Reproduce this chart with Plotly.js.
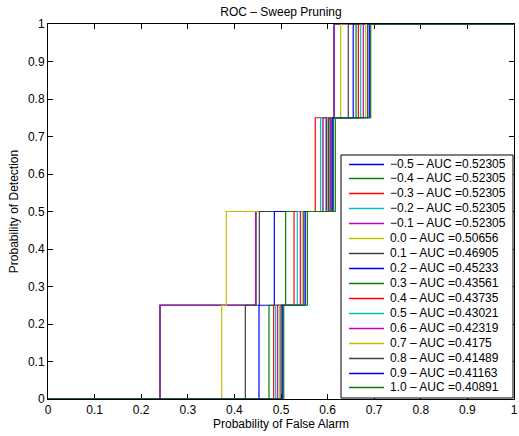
<!DOCTYPE html>
<html>
<head>
<meta charset="utf-8">
<script src="https://cdn.plot.ly/plotly-3.0.1.min.js"></script>
<style>html,body{margin:0;padding:0;background:#fff;}#chart{width:519px;height:436px;}</style>
</head>
<body>
<div id="chart"></div>
<script>
// Series labels (pruning threshold) and their AUC values
const thresholds = ['\u22120.5', '\u22120.4', '\u22120.3', '\u22120.2', '\u22120.1', '0.0', '0.1', '0.2', '0.3', '0.4', '0.5', '0.6', '0.7', '0.8', '0.9', '1.0'];
const aucLabels = ['0.52305', '0.52305', '0.52305', '0.52305', '0.52305', '0.50656', '0.46905', '0.45233', '0.43561', '0.43735', '0.43021', '0.42319', '0.4175', '0.41489', '0.41163', '0.40891'];
// Detection levels of the staircase
const detectionLevels = [0, 0.25, 0.5, 0.75, 1, 1];
// False-alarm probability at which detection steps up to 0.25, 0.5, 0.75, 1
const faStep25 = [0.2403, 0.2403, 0.2403, 0.2403, 0.2403, 0.3727, 0.4234, 0.4528, 0.4742, 0.4843, 0.4886, 0.4929, 0.4972, 0.5000, 0.5028, 0.5058];
const faStep50 = [0.4457, 0.4457, 0.4457, 0.4457, 0.4457, 0.3826, 0.4535, 0.4857, 0.5100, 0.5280, 0.5350, 0.5415, 0.5457, 0.5490, 0.5520, 0.5565];
const faStep75 = [0.6070, 0.6070, 0.6070, 0.6070, 0.6070, 0.5900, 0.6020, 0.5970, 0.6120, 0.5735, 0.5850, 0.5900, 0.6000, 0.6030, 0.6110, 0.6165];
const faStep100 = [0.6140, 0.6140, 0.6140, 0.6140, 0.6140, 0.6280, 0.6444, 0.6550, 0.6610, 0.6660, 0.6710, 0.6766, 0.6818, 0.6860, 0.6895, 0.6925];
const palette = ['#0000ff', '#008000', '#ff0000', '#00bfbf', '#bf00bf', '#bfbf00', '#404040'];

const FONT = 'Liberation Sans, Arial, Helvetica, sans-serif';
const W = 519, H = 436, ML = 48, MR = 5, MT = 24, MB = 37;
const PW = W - ML - MR, PH = H - MT - MB;

const traces = thresholds.map((t, i) => ({
  type: 'scatter',
  mode: 'lines',
  name: t + ' \u2013 AUC =' + aucLabels[i],
  x: [0, faStep25[i], faStep50[i], faStep75[i], faStep100[i], 1],
  y: detectionLevels,
  line: {color: palette[i % palette.length], width: 1.2, shape: 'hv'},
  showlegend: false,
  hoverinfo: 'skip'
}));

// custom compact legend (MATLAB style)
const px2x = p => (p - ML) / PW;
const px2y = p => (H - MB - p) / PH;
const shapes = [];
const annotations = [];
const boxL = 341, boxR = 513, boxT = 155, boxB = 398;
shapes.push({type: 'rect', xref: 'paper', yref: 'paper', x0: px2x(boxL), x1: px2x(boxR), y0: px2y(boxB), y1: px2y(boxT),
  line: {color: '#000', width: 1}, fillcolor: '#fff', layer: 'above'});
const rowStart = 163.5, rowStep = 14.93;
thresholds.forEach((t, i) => {
  const rowPx = rowStart + i * rowStep;
  const linePx = Math.round(rowPx) + 0.5;
  shapes.push({type: 'line', xref: 'paper', yref: 'paper', x0: px2x(349), x1: px2x(384), y0: px2y(linePx), y1: px2y(linePx),
    line: {color: palette[i % palette.length], width: 1.5}, layer: 'above'});
  annotations.push({xref: 'paper', yref: 'paper', x: px2x(388), y: px2y(rowPx), xanchor: 'left', yanchor: 'middle',
    text: traces[i].name, showarrow: false, font: {family: FONT, size: 12, color: '#000'}});
});

const axisCommon = {
  range: [0, 1], dtick: 0.1, tick0: 0,
  showgrid: false, zeroline: false,
  showline: true, linecolor: '#000', linewidth: 1, mirror: 'ticks',
  ticks: 'inside', ticklen: 5, tickcolor: '#000', tickwidth: 1,
  tickfont: {family: FONT, size: 12, color: '#000'},
  layer: 'below traces'
};

const layout = {
  width: W, height: H,
  margin: {l: ML, r: MR, t: MT, b: MB, pad: 0},
  paper_bgcolor: '#fff', plot_bgcolor: '#fff',
  font: {family: FONT, size: 12, color: '#000'},
  title: {text: 'ROC \u2013 Sweep Pruning', font: {family: FONT, size: 12, color: '#000'},
    xref: 'paper', x: 0.5, xanchor: 'center', yref: 'container', y: 1 - 12 / H, yanchor: 'middle'},
  xaxis: Object.assign({}, axisCommon, {title: {text: 'Probability of False Alarm', font: {family: FONT, size: 12}, standoff: 2}}),
  yaxis: Object.assign({}, axisCommon, {title: {text: 'Probability of Detection', font: {family: FONT, size: 12}, standoff: 6}}),
  showlegend: false,
  shapes: shapes,
  annotations: annotations
};

Plotly.newPlot('chart', traces, layout, {staticPlot: true, displayModeBar: false});
</script>
</body>
</html>
